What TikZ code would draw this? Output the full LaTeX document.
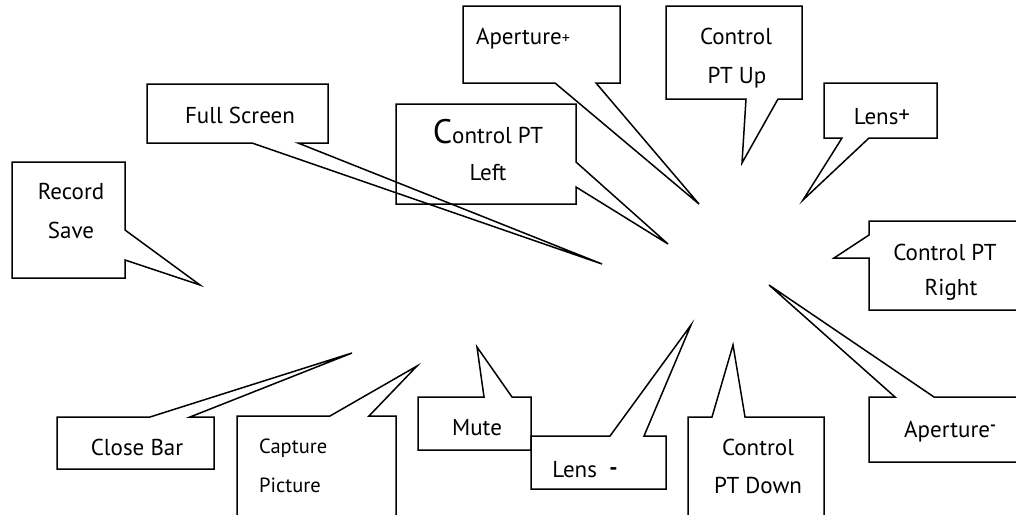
\documentclass[tikz,border=0pt]{standalone}
\usepackage{fontspec}
\setmainfont{PT Sans}
\usepackage{tikz}

\tikzset{
  callout/.style={draw=black, line width=1.5pt, line join=miter},
  calltext/.style={inner sep=0pt, anchor=base, font=\fontsize{23}{27}\selectfont},
  smalltext/.style={inner sep=0pt, anchor=base west, font=\fontsize{20.5}{24}\selectfont},
}

\begin{document}
\begin{tikzpicture}[x=1pt,y=-1pt]
	\clip (0,0) rectangle (1016,514);
	\fill[white] (0,0) rectangle (1016,514);
	% callout outlines, pointer tips go to the middle
	\draw[callout] (147,84) -- (328,84) -- (328,143) -- (298,143) -- (602,264) -- (252,143) -- (147,143) -- cycle;
	\draw[callout] (12,162) -- (125,162) -- (125,230) -- (200,285) -- (125,260) -- (125,278) -- (12,278) -- cycle;
	\draw[callout] (463,6) -- (620,6) -- (620,83) -- (596,83) -- (699,204) -- (555,83) -- (463,83) -- cycle;
	\draw[callout] (396,104) -- (576,104) -- (576,162) -- (668,244) -- (576,187) -- (576,204) -- (396,204) -- cycle;
	\draw[callout] (666,6) -- (802,6) -- (802,99) -- (778,99) -- (742,163) -- (746,99) -- (666,99) -- cycle;
	\draw[callout] (824,83) -- (937,83) -- (937,138) -- (869,138) -- (803,200) -- (842,138) -- (824,138) -- cycle;
	\draw[callout] (869,221) -- (1030,221) -- (1030,310) -- (869,310) -- (869,258) -- (834,258) -- (869,235) -- cycle;
	\draw[callout] (869,397) -- (895,397) -- (769,285) -- (934,397) -- (1030,397) -- (1030,462) -- (869,462) -- cycle;
	\draw[callout] (688,417) -- (712,417) -- (733,345) -- (745,417) -- (824,417) -- (824,530) -- (688,530) -- cycle;
	\draw[callout] (531,436) -- (610,436) -- (691,325) -- (644,436) -- (666,436) -- (666,489) -- (531,489) -- cycle;
	\draw[callout] (418,397) -- (484,397) -- (477,347) -- (512,397) -- (531,397) -- (531,450) -- (418,450) -- cycle;
	\draw[callout] (237,416) -- (330,416) -- (417,366) -- (369,416) -- (396,416) -- (396,530) -- (237,530) -- cycle;
	\draw[callout] (57,417) -- (150,417) -- (352,353) -- (190,417) -- (214,417) -- (214,469) -- (57,469) -- cycle;
	% texts
	\node[calltext] (fullscreen) at (240,123) {Full Screen};
	\node[calltext] (record) at (71,199) {Record};
	\node[calltext] (save) at (71,238) {Save};
	\node[calltext] (apertureplus) at (523,44) {Aperture\raisebox{1pt}{\fontsize{16}{16}\selectfont+}};
	\node[calltext] (ctrlleft) at (488,143) {{\fontsize{34}{34}\selectfont C}ontrol PT};
	\node[calltext] (ctrlleftb) at (488,180) {Left};
	\node[calltext] (ctrlup) at (736,44) {Control};
	\node[calltext] (ctrlupb) at (737,83) {PT Up};
	\node[calltext] (lensplus) at (882,124) {Lens\raisebox{2pt}{+}};
	\node[calltext] (ctrlright) at (945,260) {Control PT};
	\node[calltext] (ctrlrightb) at (951,295) {Right};
	\node[calltext] (apertureminus) at (950,437) {Aperture\raisebox{7pt}{\fontsize{16}{16}\selectfont\bfseries -}};
	\node[calltext] (ctrldown) at (758,455) {Control};
	\node[calltext] (ctrldownb) at (758,493) {PT Down};
	\node[calltext] (lensminus) at (585,477) {Lens\ \ \raisebox{2pt}{\bfseries -}};
	\node[calltext] (mute) at (477,435) {Mute};
	\node[smalltext] (capture) at (259,453) {Capture};
	\node[smalltext] (picture) at (259,492) {Picture};
	\node[calltext] (closebar) at (137,455) {Close Bar};
\end{tikzpicture}
\end{document}
